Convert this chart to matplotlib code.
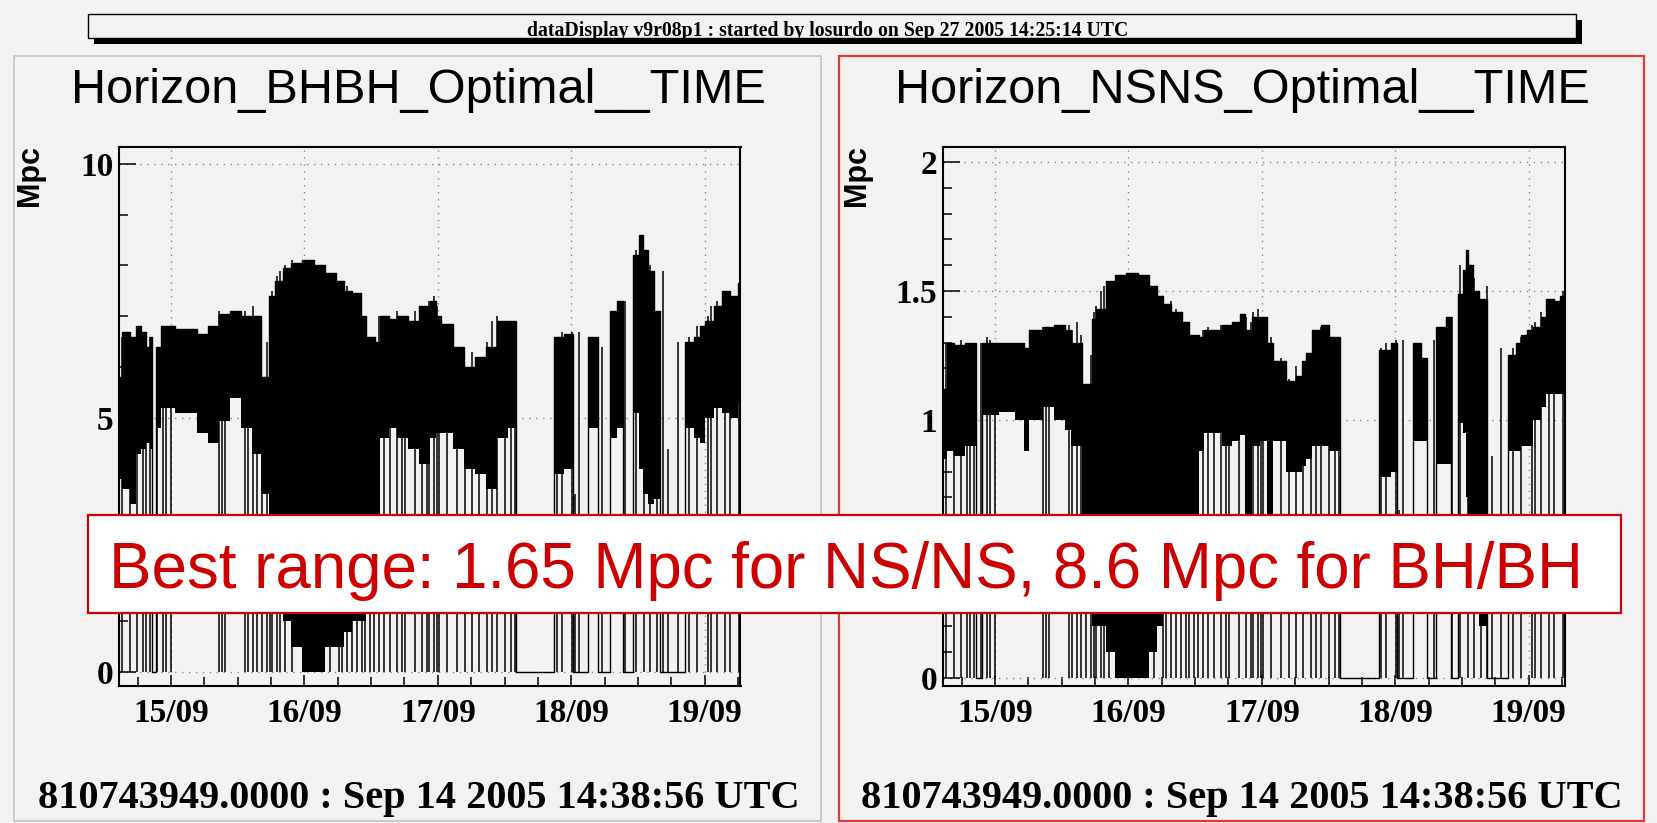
import numpy as np
import matplotlib.pyplot as plt
import matplotlib.dates as mdates
from matplotlib.patches import Rectangle
from matplotlib.ticker import MultipleLocator, FormatStrFormatter
from datetime import datetime

W, H = 1658, 823
start = datetime(2005, 9, 14, 14, 38, 56)
span_h = 111.8  # hours shown on the time axis

# BH/BH horizon (Mpc): sample time in hours from start, upper / lower edge of the band
# (0, 0) samples are lock-loss periods where the trace sits at zero
bh_t = [0.0, 0.5, 2.0, 3.0, 4.0, 4.8, 5.5, 5.9, 6.6, 7.5, 10.0, 12.0, 14.0, 16.0,
        18.0, 20.0, 22.0, 24.0, 25.5, 27.0, 28.0, 29.5, 31.0, 33.0, 35.0, 37.0,
        39.0, 40.5, 42.0, 43.5, 44.5, 46.0, 47.0, 48.5, 50.0, 52.0, 54.0, 56.0,
        57.0, 58.0, 60.0, 62.0, 64.0, 66.0, 68.0, 70.0, 71.4, 78.3, 80.0, 81.6,
        84.4, 86.1, 88.4, 89.5, 90.6, 92.5, 93.5, 94.3, 95.2, 96.2, 97.4, 101.9,
        103.5, 104.5, 105.5, 107.0, 108.5, 110.0, 111.3, 111.8]
bh_top = [5.8, 6.7, 6.6, 6.8, 6.7, 6.4, 6.6, 0, 6.4, 6.8, 6.75, 6.75, 6.65, 6.8,
          7.05, 7.1, 7.0, 7.0, 5.8, 7.4, 7.7, 7.95, 8.05, 8.1, 8.0, 7.85,
          7.7, 7.5, 7.45, 7.0, 6.6, 6.5, 7.0, 6.95, 7.0, 6.9, 7.2, 7.3,
          7.0, 6.85, 6.4, 6.0, 6.2, 6.4, 6.9, 6.9, 0, 6.6, 6.65, 0,
          6.6, 0, 7.1, 7.3, 0, 8.2, 8.6, 8.3, 7.9, 7.1, 0, 6.5,
          6.6, 6.8, 6.9, 7.2, 7.5, 7.4, 7.65, 7.65]
bh_bot = [3.8, 3.6, 3.3, 4.3, 4.4, 4.5, 4.4, 0, 4.8, 5.2, 5.1, 5.1, 4.7, 4.5,
          4.95, 5.4, 4.8, 4.3, 3.5, 3.0, 2.5, 1.0, 0.5, 0.0, 0.0, 0.5,
          0.5, 0.8, 1.0, 1.0, 1.2, 1.5, 4.6, 4.8, 4.6, 4.4, 4.1, 4.6,
          4.7, 4.7, 4.4, 4.0, 3.9, 3.6, 4.6, 4.8, 0, 3.9, 4.0, 0,
          4.8, 0, 4.6, 4.8, 0, 5.1, 4.0, 3.5, 3.3, 3.4, 0, 4.8,
          4.6, 4.5, 5.0, 5.2, 5.1, 5.0, 5.3, 5.3]
# short drops to zero (hours) and the height each spike reaches
bh_drop_t = [0.5, 2.0, 3.2, 4.4, 4.8, 5.6, 6.8, 7.9, 8.5, 9.4, 18.0, 18.5, 19.0,
             22.6, 23.2, 24.1, 24.9, 25.7, 26.6, 27.2, 27.5, 28.4, 29.0, 29.9,
             31.1, 36.2, 36.8, 38.0, 39.5, 40.1, 41.0, 41.9, 42.8, 43.7, 44.3,
             45.2, 45.8, 46.7, 47.6, 48.7, 50.0, 50.9, 51.5, 53.3, 54.5, 55.4,
             55.7, 56.6, 57.2, 57.6, 59.0, 60.8, 62.3, 63.5, 64.7, 66.2, 67.1,
             68.0, 69.5, 70.6, 71.2, 78.8, 79.7, 81.5, 82.0, 82.7, 86.9, 91.1,
             93.0, 94.5, 95.5, 96.8, 97.8, 98.8, 100.5, 102.5, 104.0, 106.0,
             106.5, 107.5, 109.0, 110.0, 111.5]
bh_drop_v = [6.6, 6.6, 6.7, 6.5, 6.4, 6.6, 6.4, 6.8, 6.8, 6.7, 7.1, 7.0, 7.0,
             7.1, 7.0, 7.2, 6.9, 5.5, 6.5, 7.4, 7.5, 7.8, 7.9, 8.0,
             8.1, 7.9, 7.9, 7.7, 7.6, 7.5, 7.6, 7.4, 7.3, 7.0, 6.6,
             6.4, 6.5, 7.0, 7.0, 6.9, 7.1, 6.9, 6.8, 7.1, 7.2, 7.1,
             7.3, 7.4, 7.2, 7.0, 6.8, 6.4, 6.0, 6.3, 6.2, 6.5, 6.9,
             7.0, 6.9, 6.8, 6.3, 6.6, 6.7, 6.7, 3.5, 6.7, 6.4, 7.3,
             8.3, 8.3, 8.0, 7.1, 7.9, 4.4, 6.5, 6.6, 6.8, 7.0,
             7.2, 7.3, 7.5, 7.4, 7.65]

# NS/NS horizon (Mpc)
ns_t = [0.0, 0.8, 2.0, 4.0, 5.9, 7.0, 10.0, 13.0, 14.5, 15.5, 18.0, 20.0, 22.0,
        23.0, 25.0, 26.8, 27.5, 29.3, 31.0, 33.0, 35.0, 37.0, 38.5, 39.5, 41.0,
        43.0, 44.3, 46.0, 47.0, 50.2, 52.0, 53.5, 54.4, 55.5, 57.0, 58.3, 59.4,
        61.7, 63.5, 64.5, 65.3, 66.4, 68.0, 69.5, 71.5, 78.4, 80.5, 81.7, 84.5,
        86.0, 87.0, 88.6, 90.5, 91.3, 92.7, 93.5, 94.0, 94.5, 95.4, 96.5, 97.9,
        101.7, 103.0, 104.0, 105.1, 106.2, 107.5, 108.5, 110.0, 111.0, 111.8]
ns_top = [1.12, 1.30, 1.29, 1.30, 0, 1.30, 1.30, 1.30, 1.28, 1.35, 1.36, 1.37, 1.35,
          1.30, 1.14, 1.39, 1.43, 1.54, 1.56, 1.57, 1.56, 1.52, 1.48, 1.45, 1.42,
          1.38, 1.33, 1.32, 1.35, 1.37, 1.38, 1.41, 1.35, 1.40, 1.40, 1.30, 1.23,
          1.15, 1.17, 1.23, 1.26, 1.35, 1.37, 1.32, 0, 1.27, 1.30, 0, 1.30,
          1.24, 0, 1.36, 1.40, 0, 1.49, 1.58, 1.66, 1.60, 1.50, 1.47, 0,
          1.25, 1.30, 1.33, 1.35, 1.36, 1.40, 1.47, 1.46, 1.48, 1.48]
ns_bot = [0.85, 0.88, 0.86, 0.90, 0, 1.02, 1.03, 1.00, 0.88, 1.00, 1.05, 1.00, 0.96,
          0.90, 0.40, 0.20, 0.20, 0.10, 0.0, 0.0, 0.0, 0.10, 0.20, 0.30, 0.40,
          0.40, 0.60, 0.88, 0.95, 0.90, 0.92, 0.94, 0.50, 0.90, 0.92, 0.50, 0.92,
          0.80, 0.80, 0.82, 0.85, 0.90, 0.90, 0.88, 0, 0.78, 0.80, 0, 0.92,
          0.92, 0, 0.83, 0.83, 0, 0.99, 0.95, 0.70, 0.40, 0.30, 0.20, 0,
          0.88, 0.88, 0.90, 0.90, 1.00, 1.05, 1.10, 1.10, 1.10, 1.10]
ns_drop_t = [0.5, 2.0, 3.2, 4.4, 4.8, 5.6, 6.8, 7.9, 8.5, 9.4, 18.0, 18.5, 19.0,
             22.6, 23.2, 24.1, 24.9, 25.7, 26.6, 27.2, 27.5, 28.4, 29.0, 29.9,
             31.1, 36.2, 36.8, 38.0, 39.5, 40.1, 41.0, 41.9, 42.8, 43.7, 44.3,
             45.2, 45.8, 46.7, 47.6, 48.7, 50.0, 50.9, 51.5, 53.3, 54.5, 55.4,
             55.7, 56.6, 57.2, 57.6, 59.0, 60.8, 62.3, 63.5, 64.7, 66.2, 67.1,
             68.0, 69.5, 70.6, 71.2, 78.8, 79.7, 81.5, 82.0, 82.7, 88.3, 91.5,
             93.0, 94.5, 95.5, 96.8, 97.9, 98.8, 100.3, 102.5, 104.0, 106.0,
             106.5, 107.5, 109.0, 110.0, 111.5]
ns_drop_v = [1.30, 1.28, 1.31, 1.27, 1.26, 1.30, 1.30, 1.32, 1.31, 1.30, 1.36, 1.35, 1.35,
             1.37, 1.35, 1.38, 1.33, 1.10, 1.25, 1.42, 1.44, 1.50, 1.52, 1.54,
             1.56, 1.53, 1.53, 1.49, 1.46, 1.45, 1.46, 1.43, 1.41, 1.35, 1.28,
             1.24, 1.26, 1.35, 1.36, 1.33, 1.37, 1.34, 1.32, 1.38, 1.40, 1.38,
             1.42, 1.43, 1.40, 1.36, 1.32, 1.24, 1.16, 1.21, 1.20, 1.26, 1.34,
             1.36, 1.34, 1.31, 1.22, 1.28, 1.30, 1.31, 0.65, 1.31, 1.31, 1.40,
             1.60, 1.60, 1.55, 1.45, 1.52, 0.86, 1.28, 1.28, 1.32, 1.37,
             1.38, 1.42, 1.47, 1.46, 1.50]

titles = ['Horizon_BHBH_Optimal__TIME', 'Horizon_NSNS_Optimal__TIME']
footer = '810743949.0000 : Sep 14 2005 14:38:56 UTC'
header = 'dataDisplay v9r08p1 : started by losurdo on Sep 27 2005 14:25:14 UTC'
note = 'Best range: 1.65 Mpc for NS/NS, 8.6 Mpc for BH/BH'

bg = '#f2f2f2'
plt.rcParams['font.family'] = ['Liberation Serif', 'DejaVu Serif']
plt.rcParams['font.weight'] = 'bold'


def fx(x):
    return x / W


def fy(y):
    return 1 - y / H


def box(x0, y0, x1, y1, **kw):
    r = Rectangle((fx(x0), fy(y1)), (x1 - x0) / W, (y1 - y0) / H,
                  transform=fig.transFigure, **kw)
    fig.add_artist(r)
    return r


fig = plt.figure(figsize=(W / 100, H / 100), dpi=100, facecolor=bg)
t0 = mdates.date2num(start)

# pads
box(14, 56, 821, 821, facecolor='none', edgecolor='#c4c4c4', lw=1.2, zorder=0)
box(839, 56, 1644, 821, facecolor='none', edgecolor='#e23a3a', lw=1.6, zorder=0)

# header bar with shadow
box(94, 20, 1582, 44, facecolor='black', edgecolor='black', lw=0, zorder=1)
box(88, 14, 1576, 38, facecolor=bg, edgecolor='black', lw=1, zorder=2)
fig.text(fx(828), fy(36), header, ha='center', va='baseline', fontsize=14.2)

panels = [
    (119, bh_t, bh_top, bh_bot, bh_drop_t, bh_drop_v, (-0.27, 10.33), 5, 1, 30, 418.5, titles[0]),
    (943, ns_t, ns_top, ns_bot, ns_drop_t, ns_drop_v, (-0.031, 2.058), 0.5, 0.1, 857, 1242, titles[1]),
]

for left, t, top, bot, dt, dv, ylim, major, minor, xlab, xc, title in panels:
    ax = fig.add_axes([fx(left), fy(686), 621.5 / W, 539 / H])
    ax.set_facecolor(bg)
    x = t0 + np.array(t) / 24.0
    ax.fill_between(x, bot, top, step='post', color='black', lw=0, zorder=2)
    ax.step(x, top, where='post', color='black', lw=1.0, zorder=3)
    ax.vlines(t0 + np.array(dt) / 24.0, 0, dv, color='black', lw=1.1, zorder=3)

    ax.set_xlim(t0, t0 + span_h / 24.0)
    ax.set_ylim(*ylim)
    ax.xaxis.set_major_locator(mdates.DayLocator())
    ax.xaxis.set_major_formatter(mdates.DateFormatter('%d/%m'))
    ax.xaxis.set_minor_locator(mdates.HourLocator(byhour=[0, 6, 12, 18]))
    ax.yaxis.set_major_locator(MultipleLocator(major))
    ax.yaxis.set_minor_locator(MultipleLocator(minor))
    ax.yaxis.set_major_formatter(FormatStrFormatter('%g'))

    ax.tick_params(axis='both', which='both', direction='in', top=False, right=False,
                   width=1.1, color='black', labelsize=24)
    ax.tick_params(axis='y', which='major', length=12, pad=4)
    ax.tick_params(axis='y', which='minor', length=6.5)
    ax.tick_params(axis='x', which='major', length=8, pad=9)
    ax.tick_params(axis='x', which='minor', length=6.5)
    for s in ax.spines.values():
        s.set_linewidth(1.5)

    ax.set_axisbelow(True)
    ax.grid(True, which='major', linestyle=(0, (1, 4)), color='#8a8a8a', lw=1.0)

    # the 0.5 label of the NS pad lies under the banner and is not seen
    fig.canvas.draw()
    for lab in ax.get_yticklabels():
        if lab.get_text() == '0.5':
            lab.set_visible(False)

    fig.text(fx(xlab), fy(145), 'Mpc', rotation=90, ha='center', va='top',
             fontsize=22, family='Liberation Sans', weight='bold')
    fig.text(fx(xc), fy(103), title, ha='center', va='baseline',
             fontsize=35, family='Liberation Sans', weight='normal')
    fig.text(fx(xc), fy(808), footer, ha='center', va='baseline', fontsize=29)

# annotation banner
box(88, 515, 1621, 613, facecolor='white', edgecolor='#cc0000', lw=1.6, zorder=5)
fig.text(fx(109), fy(588), note, ha='left', va='baseline', fontsize=45.8,
         color='#cc0000', family='Liberation Sans', weight='normal', zorder=6)

fig.savefig('out.png', dpi=100, facecolor=bg)
